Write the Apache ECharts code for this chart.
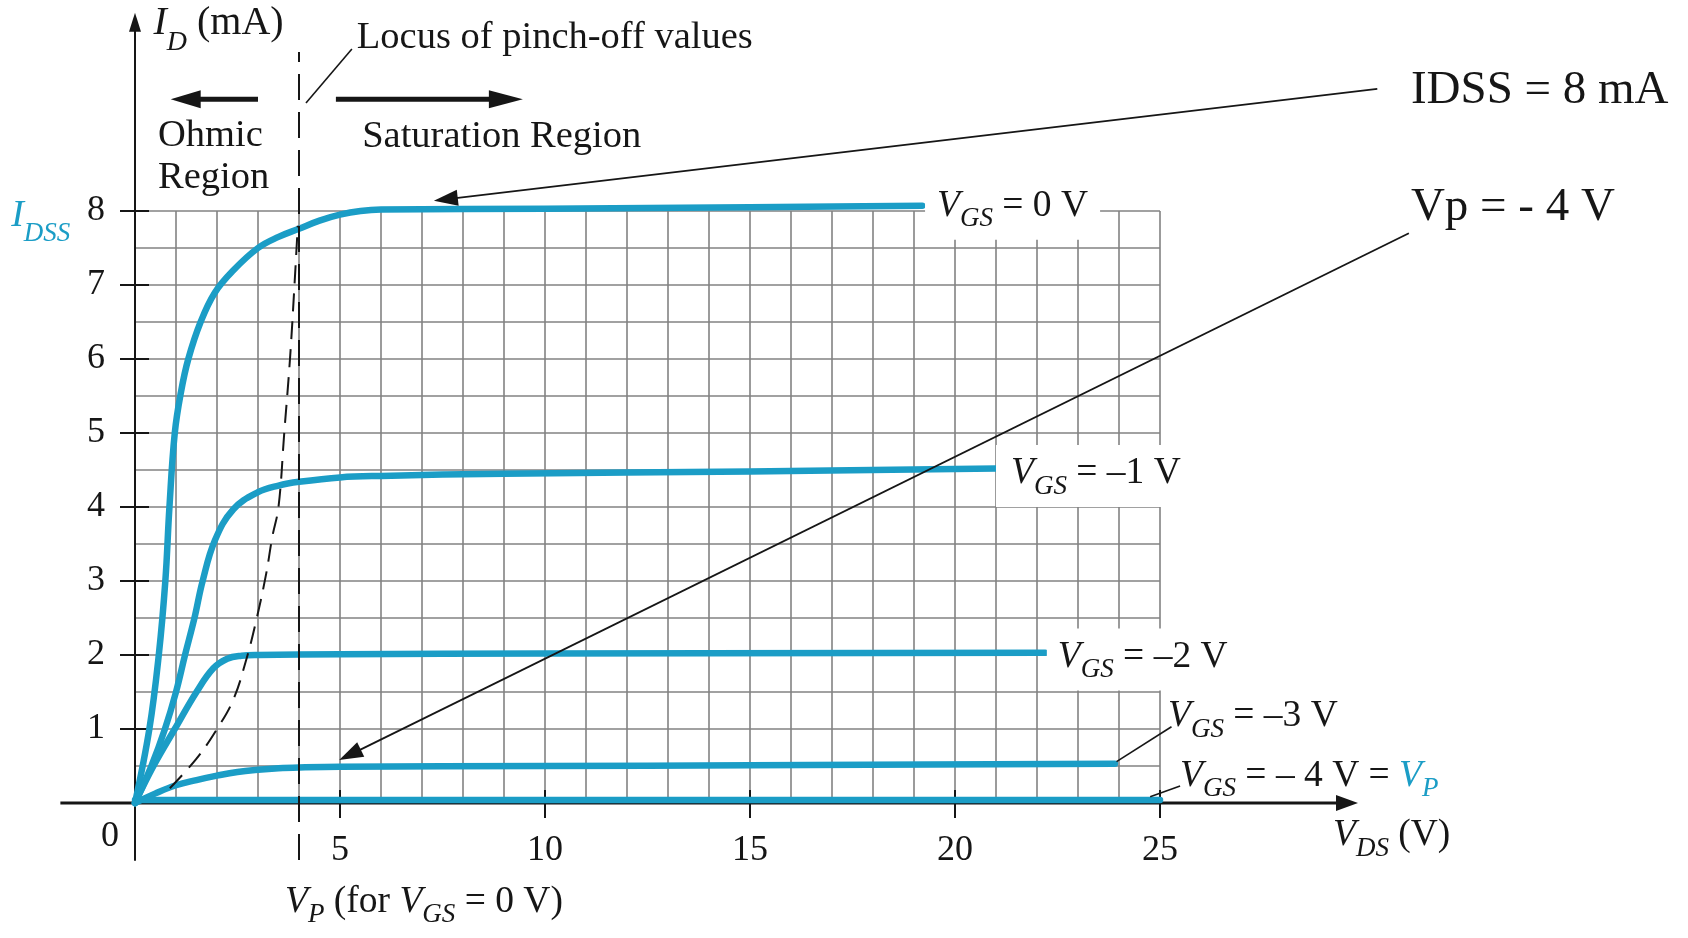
<!DOCTYPE html>
<html>
<head>
<meta charset="utf-8">
<script src="https://cdn.jsdelivr.net/npm/echarts@6/dist/echarts.min.js"></script>
<style>html,body{margin:0;padding:0;background:#fff;}#chart{width:1688px;height:938px;}</style>
</head>
<body>
<div id="chart"></div>
<script>
// ---- data ----
const xTickValues = [5, 10, 15, 20, 25];
const yTickValues = [1, 2, 3, 4, 5, 6, 7, 8];
const curveVgs0 = [[0,0],[0.35,1.0],[0.58,2.0],[0.74,3.0],[0.84,4.0],[0.97,5.0],[1.12,5.55],[1.3,6.0],[1.6,6.5],[1.95,6.9],[2.4,7.2],[3.0,7.5],[3.5,7.65],[4.0,7.76],[4.5,7.87],[5.0,7.95],[5.5,8.0],[6.0,8.02],[10,8.03],[15,8.05],[19.2,8.07]];
const curveVgs1 = [[0,0],[0.4,0.5],[0.73,1.0],[1.0,1.5],[1.22,2.0],[1.45,2.5],[1.65,3.0],[1.95,3.55],[2.4,3.97],[3.0,4.2],[3.5,4.29],[4.0,4.34],[5.0,4.4],[6,4.42],[9,4.45],[15,4.48],[21,4.52]];
const curveVgs2 = [[0,0],[0.45,0.5],[0.97,1.0],[1.5,1.5],[1.91,1.82],[2.25,1.95],[2.6,1.99],[3,2.0],[5,2.01],[10,2.02],[22.2,2.03]];
const curveVgs3 = [[0,0],[0.5,0.13],[1,0.24],[1.5,0.31],[2,0.37],[2.5,0.42],[3,0.45],[3.5,0.47],[4,0.48],[5,0.49],[10,0.5],[15,0.51],[23.9,0.53]];
const curveVgs4 = [[0,0.04],[25,0.04]];
const pinchOffLocus = [[0.85,0.2],[1.5,0.6],[2,1.0],[2.4,1.4],[2.72,1.95],[2.95,2.45],[3.2,3.1],[3.35,3.6],[3.5,4.0],[3.64,5.0],[3.78,6.0],[3.89,7.0],[3.97,7.8]];
const vpForVgs0 = 4;

// ---- styles ----
const cyan = '#1b9dc6';
const ink = '#161616';
const serif = '"Liberation Serif", "Times New Roman", serif';

const chart = echarts.init(document.getElementById('chart'), null, {renderer: 'canvas'});

function curveSeries(name, data) {
  return {
    name, type: 'line', data, showSymbol: false, silent: true, clip: false,
    smooth: 0.4, z: 3,
    lineStyle: {color: cyan, width: 6.5, cap: 'round', join: 'round'}
  };
}

const option = {
  animation: false,
  backgroundColor: '#fff',
  grid: {left: 135, top: 211, width: 1025, height: 592, containLabel: false},
  xAxis: {
    type: 'value', min: 0, max: 25, interval: 1,
    axisLine: {show: false}, axisTick: {show: false},
    axisLabel: {formatter: v => xTickValues.includes(v) ? String(v) : '', fontFamily: serif, fontSize: 36, color: ink, margin: 30},
    splitLine: {show: true, lineStyle: {color: '#828282', width: 1.6}}
  },
  yAxis: {
    type: 'value', min: 0, max: 8, interval: 0.5,
    axisLine: {show: false}, axisTick: {show: false},
    axisLabel: {formatter: v => yTickValues.includes(v) ? String(v) : '', fontFamily: serif, fontSize: 36, color: ink, margin: 30},
    splitLine: {show: true, lineStyle: {color: '#828282', width: 1.6}}
  },
  series: [
    curveSeries('VGS = 0 V', curveVgs0),
    curveSeries('VGS = -1 V', curveVgs1),
    curveSeries('VGS = -2 V', curveVgs2),
    curveSeries('VGS = -3 V', curveVgs3),
    curveSeries('VGS = -4 V', curveVgs4),
    {
      name: 'Locus of pinch-off values', type: 'line', data: pinchOffLocus, showSymbol: false, silent: true,
      smooth: 0.4, z: 4,
      lineStyle: {color: ink, width: 2, type: [18, 10]}
    }
  ]
};
chart.setOption(option);

// ---- annotations, positioned through the chart's own scales ----
function P(x, y) { return chart.convertToPixel({gridIndex: 0}, [x, y]); }
const g = [];
function line(a, b, w, color, dash, z) {
  g.push({type: 'line', silent: true, z: z || 20,
    shape: {x1: a[0], y1: a[1], x2: b[0], y2: b[1]},
    style: {stroke: color || ink, lineWidth: w, lineDash: dash || null}});
}
function arrow(fromD, tipD, w, len, hw, z) {
  const a = P(fromD[0], fromD[1]), t = P(tipD[0], tipD[1]);
  const dx = t[0] - a[0], dy = t[1] - a[1], L = Math.hypot(dx, dy);
  const ux = dx / L, uy = dy / L;
  const bx = t[0] - ux * len, by = t[1] - uy * len;
  line(a, [bx + ux * 2, by + uy * 2], w, ink, null, z);
  g.push({type: 'polygon', silent: true, z: z || 20,
    shape: {points: [t, [bx - uy * hw, by + ux * hw], [bx + uy * hw, by - ux * hw]]},
    style: {fill: ink}});
}
function richSet(size, sub, mainLH) {
  return {
    v: {fontFamily: serif, fontSize: size, fontStyle: 'italic', lineHeight: mainLH, fill: ink},
    n: {fontFamily: serif, fontSize: size, lineHeight: mainLH, fill: ink},
    s: {fontFamily: serif, fontSize: sub, fontStyle: 'italic', lineHeight: sub, verticalAlign: 'bottom', fill: ink},
    vc: {fontFamily: serif, fontSize: size, fontStyle: 'italic', lineHeight: mainLH, fill: cyan},
    sc: {fontFamily: serif, fontSize: sub, fontStyle: 'italic', lineHeight: sub, verticalAlign: 'bottom', fill: cyan}
  };
}
function text(posD, str, rich, extra, align) {
  const p = P(posD[0], posD[1]);
  g.push({type: 'text', silent: true, z: (extra && extra.z) || 30, x: p[0], y: p[1],
    style: Object.assign({text: str, rich: rich, align: align || 'left', verticalAlign: 'middle', fill: ink,
      fontFamily: serif, fontSize: 36}, extra ? extra.style : {})});
}

// axes with arrows
line(P(0, -0.78), P(0, 10.45), 2, ink, null, 1);
arrow([0, 10.3], [0, 10.68], 0.1, 19, 6, 1);
line(P(-1.82, 0), P(29.3, 0), 3, ink, null, 1);
arrow([29.0, 0], [29.83, 0], 0.1, 22, 8, 1);
xTickValues.forEach(v => { const p = P(v, 0); line([p[0], p[1] - 13], [p[0], p[1] + 15], 2, ink, null, 1); });
yTickValues.forEach(v => { const p = P(0, v); line([p[0] - 15, p[1]], [p[0] + 14, p[1]], 2, ink, null, 1); });

// V_P dashed line at VDS = 4 V
line(P(vpForVgs0, -0.77), P(vpForVgs0, 10.15), 2, ink, [26, 12], 5);
// locus leader
line(P(5.29, 10.19), P(4.17, 9.46), 1.6, ink);
// region arrows
arrow([3.0, 9.51], [0.87, 9.51], 5, 30, 9);
arrow([4.9, 9.51], [9.46, 9.51], 5, 34, 9);
// IDSS and Vp pointer arrows
arrow([30.3, 9.65], [7.29, 8.14], 1.8, 24, 8, 40);
arrow([31.07, 7.70], [4.98, 0.58], 1.8, 24, 8, 40);
// leaders for VGS = -3 V and -4 V labels
line(P(23.94, 0.56), P(25.28, 1.03), 1.6, ink);
line(P(24.76, 0.085), P(25.49, 0.23), 1.6, ink);

const rLab = richSet(37.5, 27, 53);
const r38 = richSet(38.5, 27, 52);
const boxStyle = (padL) => ({backgroundColor: '#fff', padding: [2, 12, 7, padL]});

text([0.45, 10.54], '{v|I}{s|D}{n| (mA)}', richSet(40, 28, 68));
text([5.41, 10.34], '{n|Locus of pinch-off values}', r38);
text([0.56, 9.01], '{n|Ohmic}', r38);
text([0.56, 8.45], '{n|Region}', r38);
text([5.54, 9.0], '{n|Saturation Region}', r38);
text([-3.02, 7.93], '{vc|I}{sc|DSS}', richSet(38, 27, 62));
text([-0.61, -0.46], '{n|0}', richSet(36, 25, 52), null, 'center');

text([19.27, 8.03], '{v|V}{s|GS}{n| = 0 V}', rLab, {z: 10, style: boxStyle(12)});
text([21.0, 4.42], '{v|V}{s|GS}{n| = –1 V}', rLab, {z: 10, style: boxStyle(15)});
text([22.24, 1.94], '{v|V}{s|GS}{n| = –2 V}', rLab, {z: 10, style: boxStyle(11)});
text([25.195, 1.17], '{v|V}{s|GS}{n| = –3 V}', rLab);
text([25.49, 0.36], '{v|V}{s|GS}{n| = – 4 V = }{vc|V}{sc|P}', rLab);
text([29.22, -0.44], '{v|V}{s|DS}{n| (V)}', rLab);
text([3.66, -1.34], '{v|V}{s|P}{n| (for }{v|V}{s|GS}{n| = 0 V)}', rLab);

const r47 = {n: {fontFamily: serif, fontSize: 47, lineHeight: 56, fill: ink}};
text([31.12, 9.63], '{n|IDSS = 8 mA}', r47);
text([31.12, 8.05], '{n|Vp = - 4 V}', r47);

chart.setOption({graphic: {elements: g}});
</script>
</body>
</html>
